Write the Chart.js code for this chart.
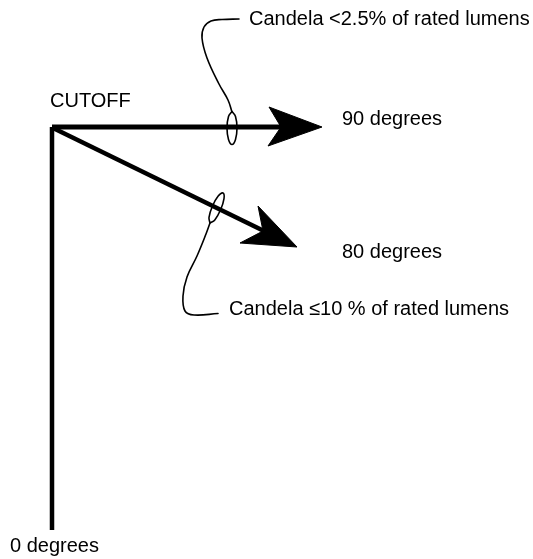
<!DOCTYPE html>
<html>
<head>
<meta charset="utf-8">
<script src="https://cdn.jsdelivr.net/npm/chart.js@4"></script>
<style>
  html, body { margin: 0; padding: 0; background: #fff; }
  #wrap { width: 533px; height: 559px; position: relative; }
</style>
</head>
<body>
<div id="wrap"><canvas id="chart"></canvas></div>
<script>
// diagram coordinates (x to the right, y downwards), one unit per pixel
const zeroAxis = [{x: 52, y: 530}, {x: 52, y: 127}];
const ray90 = [{x: 52, y: 127}, {x: 282, y: 127}];
const ray80 = [{x: 53, y: 128}, {x: 264, y: 231}];
const head90 = [{x: 322, y: 127}, {x: 269, y: 107}, {x: 281, y: 127}, {x: 268, y: 146}, {x: 322, y: 127}];
const head80 = [{x: 297, y: 247}, {x: 258, y: 206}, {x: 263, y: 231}, {x: 240, y: 243}, {x: 297, y: 247}];
const loop90 = [
    {x: 232, y: 111.5}, {x: 235.5, y: 116.5}, {x: 237, y: 128}, {x: 235.5, y: 139.5},
    {x: 232, y: 144.5}, {x: 228.5, y: 139.5}, {x: 227, y: 128}, {x: 228.5, y: 116.5}, {x: 232, y: 111.5}
];
const loop80 = [
    {x: 210, y: 223}, {x: 214.8, y: 219.9}, {x: 220.6, y: 209.8}, {x: 224, y: 198.7},
    {x: 223, y: 193}, {x: 218.2, y: 196.1}, {x: 212.4, y: 206.2}, {x: 209, y: 217.3}, {x: 210, y: 223}
];
const leader90 = [
    {x: 232, y: 112}, {x: 228, y: 100}, {x: 219, y: 84}, {x: 207, y: 58},
    {x: 202, y: 38}, {x: 204, y: 27}, {x: 211, y: 21}, {x: 222, y: 19.5}, {x: 239, y: 19}
];
const leader80 = [
    {x: 210, y: 223}, {x: 206, y: 234}, {x: 197, y: 256}, {x: 187, y: 277},
    {x: 183, y: 296}, {x: 185, y: 311}, {x: 194, y: 315}, {x: 218, y: 313.5}
];

const labelText = ['Candela <2.5% of rated lumens', 'CUTOFF', '90 degrees', '80 degrees',
    'Candela \u226410 % of rated lumens', '0 degrees'];
const labelX = [249, 50, 342, 342, 229, 10];
const labelY = [25, 107, 125, 258, 315, 552];

function seg(data, width) {
    return {
        data: data, showLine: true, borderColor: '#000', borderWidth: width,
        pointRadius: 0, tension: 0, fill: false, borderCapStyle: 'butt', borderJoinStyle: 'miter'
    };
}
function curve(data) {
    const d = seg(data, 1.6);
    d.tension = 0.4;
    d.borderCapStyle = 'round';
    return d;
}
function head(data) {
    const d = seg(data, 1);
    d.fill = 'shape';
    d.backgroundColor = '#000';
    return d;
}

const labelPlugin = {
    id: 'labels',
    afterDatasetsDraw(chart) {
        const ctx = chart.ctx;
        const xs = chart.scales.x, ys = chart.scales.y;
        ctx.save();
        ctx.fillStyle = '#000';
        ctx.font = '20px "Liberation Sans", Arial, sans-serif';
        ctx.textAlign = 'left';
        ctx.textBaseline = 'alphabetic';
        labelText.forEach((t, i) => {
            ctx.fillText(t, xs.getPixelForValue(labelX[i]), ys.getPixelForValue(labelY[i]));
        });
        ctx.restore();
    }
};

var id = document.getElementById("chart").getContext("2d");

var chart = new Chart(id, {
    type: "scatter",
    data: {
        datasets: [
            seg(zeroAxis, 4.5),
            seg(ray90, 5),
            seg(ray80, 4.5),
            head(head90),
            head(head80),
            curve(loop90),
            curve(loop80),
            curve(leader90),
            curve(leader80)
        ]
    },
    options: {
        responsive: true,
        maintainAspectRatio: false,
        animation: false,
        layout: { padding: 0 },
        plugins: {
            legend: { display: false },
            tooltip: { enabled: false },
            title: { display: false }
        },
        scales: {
            x: { type: 'linear', display: false, min: 0, max: 533 },
            y: { type: 'linear', display: false, min: 0, max: 559, reverse: true }
        }
    },
    plugins: [labelPlugin]
});
</script>
</body>
</html>
